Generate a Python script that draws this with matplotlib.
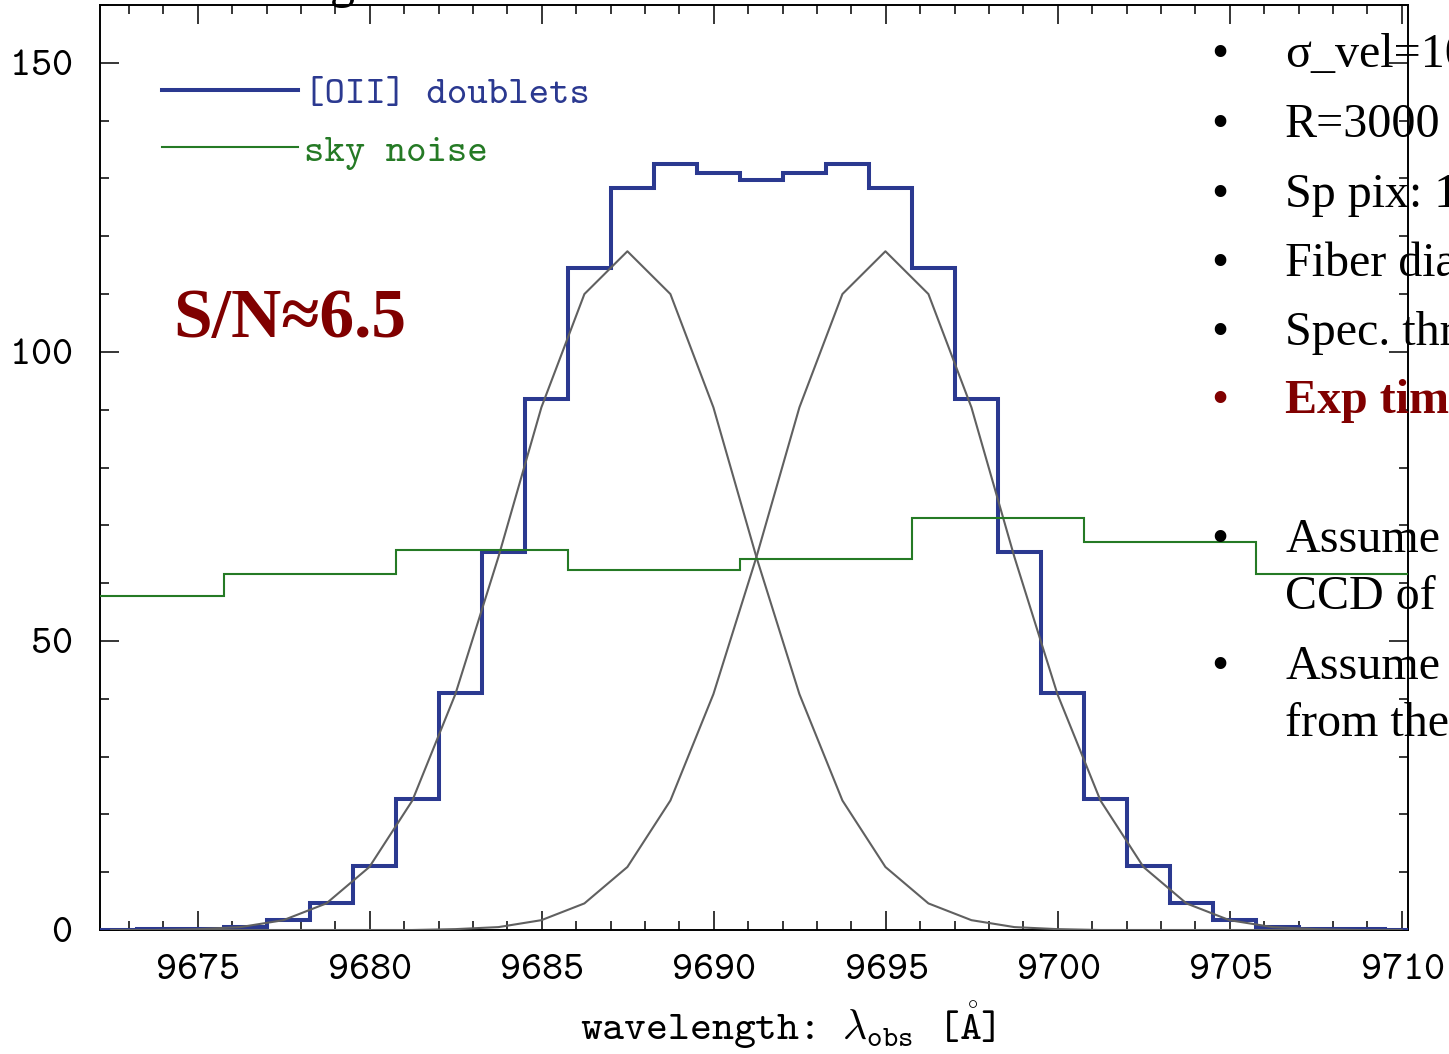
import matplotlib.pyplot as plt
from matplotlib.lines import Line2D

# [OII] doublet spectrum binned to spectral pixels (blue step)
pix_edges = [9672.0, 9673.25, 9674.5, 9675.75, 9677.0, 9678.25, 9679.5, 9680.75,
             9682.0, 9683.25, 9684.5, 9685.75, 9687.0, 9688.25, 9689.5, 9690.75,
             9692.0, 9693.25, 9694.5, 9695.75, 9697.0, 9698.25, 9699.5, 9700.75,
             9702.0, 9703.25, 9704.5, 9705.75, 9707.0, 9708.25, 9709.5, 9710.75]
oii_counts = [0.05, 0.1, 0.2, 0.6, 1.7, 4.7, 11.0, 22.6, 41.0, 65.4, 91.9, 114.5,
              128.3, 132.5, 131.0, 129.7, 131.0, 132.5, 128.3, 114.5, 91.9, 65.4,
              41.0, 22.6, 11.0, 4.7, 1.7, 0.6, 0.2, 0.1, 0.05]

# sky noise (green step)
sky_edges = [9670.75, 9675.75, 9680.75, 9685.75, 9690.75, 9695.75, 9700.75, 9705.75, 9710.75]
sky_noise = [57.7, 61.6, 65.7, 62.2, 64.2, 71.2, 67.1, 61.5]

# single lines of the doublet (gray)
lam_model = [9672.49, 9673.74, 9674.99, 9676.24, 9677.49, 9678.74, 9679.99, 9681.24,
             9682.49, 9683.74, 9684.99, 9686.24, 9687.49, 9688.74, 9689.99, 9691.24,
             9692.49, 9693.74, 9694.99, 9696.24, 9697.49, 9698.74, 9699.99, 9701.24,
             9702.49, 9703.74, 9704.99, 9706.24, 9707.49, 9708.74, 9709.99]
line_3726 = [0.0, 0.0, 0.15, 0.5, 1.7, 4.6, 10.9, 22.4, 40.8, 64.5, 90.4, 110.0,
             117.4, 110.0, 90.4, 64.5, 40.8, 22.4, 10.9, 4.6, 1.7, 0.5, 0.15,
             0.0, 0.0, 0.0, 0.0, 0.0, 0.0, 0.0, 0.0]
line_3729 = [0.0, 0.0, 0.0, 0.0, 0.0, 0.0, 0.0, 0.0, 0.15, 0.5, 1.7, 4.6, 10.9,
             22.4, 40.8, 64.5, 90.4, 110.0, 117.4, 110.0, 90.4, 64.5, 40.8, 22.4,
             10.9, 4.6, 1.7, 0.5, 0.15, 0.0, 0.0]

xticks = [9675, 9680, 9685, 9690, 9695, 9700, 9705, 9710]
yticks = [0, 50, 100, 150]

# slide text next to the plot
bullets = ["σ_vel=100", "R=3000", "Sp pix: 1", "Fiber dia", "Spec. thr", "Exp time",
           "Assume", "CCD of", "Assume", "from the"]
bullet_base = [67, 137, 207, 276, 345, 413, 552, 609, 679, 736]
has_dot = [True, True, True, True, True, True, True, False, True, False]

blue = "#2b3990"
green = "#257a25"
gray = "#606060"
red = "#800000"

plt.rcParams["font.family"] = ["cmtt10", "DejaVu Sans Mono"]
plt.rcParams["mathtext.fontset"] = "cm"
plt.rcParams["axes.formatter.use_mathtext"] = True

W, H = 1449, 1054
fig = plt.figure(figsize=(W / 100, H / 100), dpi=100)
ax = fig.add_axes([100 / W, 124 / H, 1308 / W, 925 / H])

ax.stairs(oii_counts, pix_edges, baseline=None, color=blue, lw=2.9, zorder=3)
ax.plot(lam_model, line_3726, color=gray, lw=1.5, zorder=4)
ax.plot(lam_model, line_3729, color=gray, lw=1.5, zorder=4)
ax.stairs(sky_noise, sky_edges, baseline=None, color=green, lw=1.5, zorder=5)

ax.set_xlim(9672.16, 9710.18)
ax.set_ylim(0, 160)
ax.set_xticks(xticks)
ax.set_yticks(yticks)
ax.minorticks_on()
ax.xaxis.set_minor_locator(plt.MultipleLocator(1))
ax.yaxis.set_minor_locator(plt.MultipleLocator(10))
ax.tick_params(which="both", direction="in", top=True, right=True, width=1.1, labelsize=29)
ax.tick_params(which="major", length=13.5)
ax.tick_params(which="minor", length=6.8)
ax.tick_params(axis="x", pad=17)
ax.tick_params(axis="y", pad=20)
for s in ax.spines.values():
    s.set_linewidth(1.4)

ax.set_xlabel(r"wavelength: $\lambda_{\mathtt{obs}}$ [$\mathring{\mathtt{A}}$]", fontsize=30)
ax.xaxis.set_label_coords(0.526, -0.076)

handles = [Line2D([], [], color=blue, lw=2.9), Line2D([], [], color=green, lw=1.5)]
ax.legend(handles, ["[OII] doublets", "sky noise"], loc="upper left",
          bbox_to_anchor=((162 - 100) / 1308, (930 - 76) / 925), frameon=False,
          borderpad=0, borderaxespad=0, handlelength=3.5, handletextpad=0.14,
          labelspacing=0.55, prop={"family": "cmtt10", "size": 28},
          labelcolor=[blue, green])

fig.text(173 / W, 1 - 337 / H, "S/N≈6.5", fontsize=50, fontweight="bold",
         family=["Liberation Serif", "DejaVu Serif"], color=red, va="baseline")

for txt, yb, dot in zip(bullets, bullet_base, has_dot):
    c = red if txt.startswith("Exp") else "black"
    w = "bold" if txt.startswith("Exp") else "normal"
    if dot:
        fig.text(1220 / W, 1 - yb / H, "•", fontsize=35, family="Liberation Serif",
                 color=c, ha="center", va="baseline")
    fig.text(1285 / W, 1 - yb / H, txt, fontsize=34.6, family="Liberation Serif",
             color=c, fontweight=w, va="baseline")

# bit of the slide title cut off by the top edge
fig.text(330 / W, 1 + 3 / H, "g", fontsize=36, family="Liberation Serif", va="baseline")

fig.savefig("out.png", dpi=100)
